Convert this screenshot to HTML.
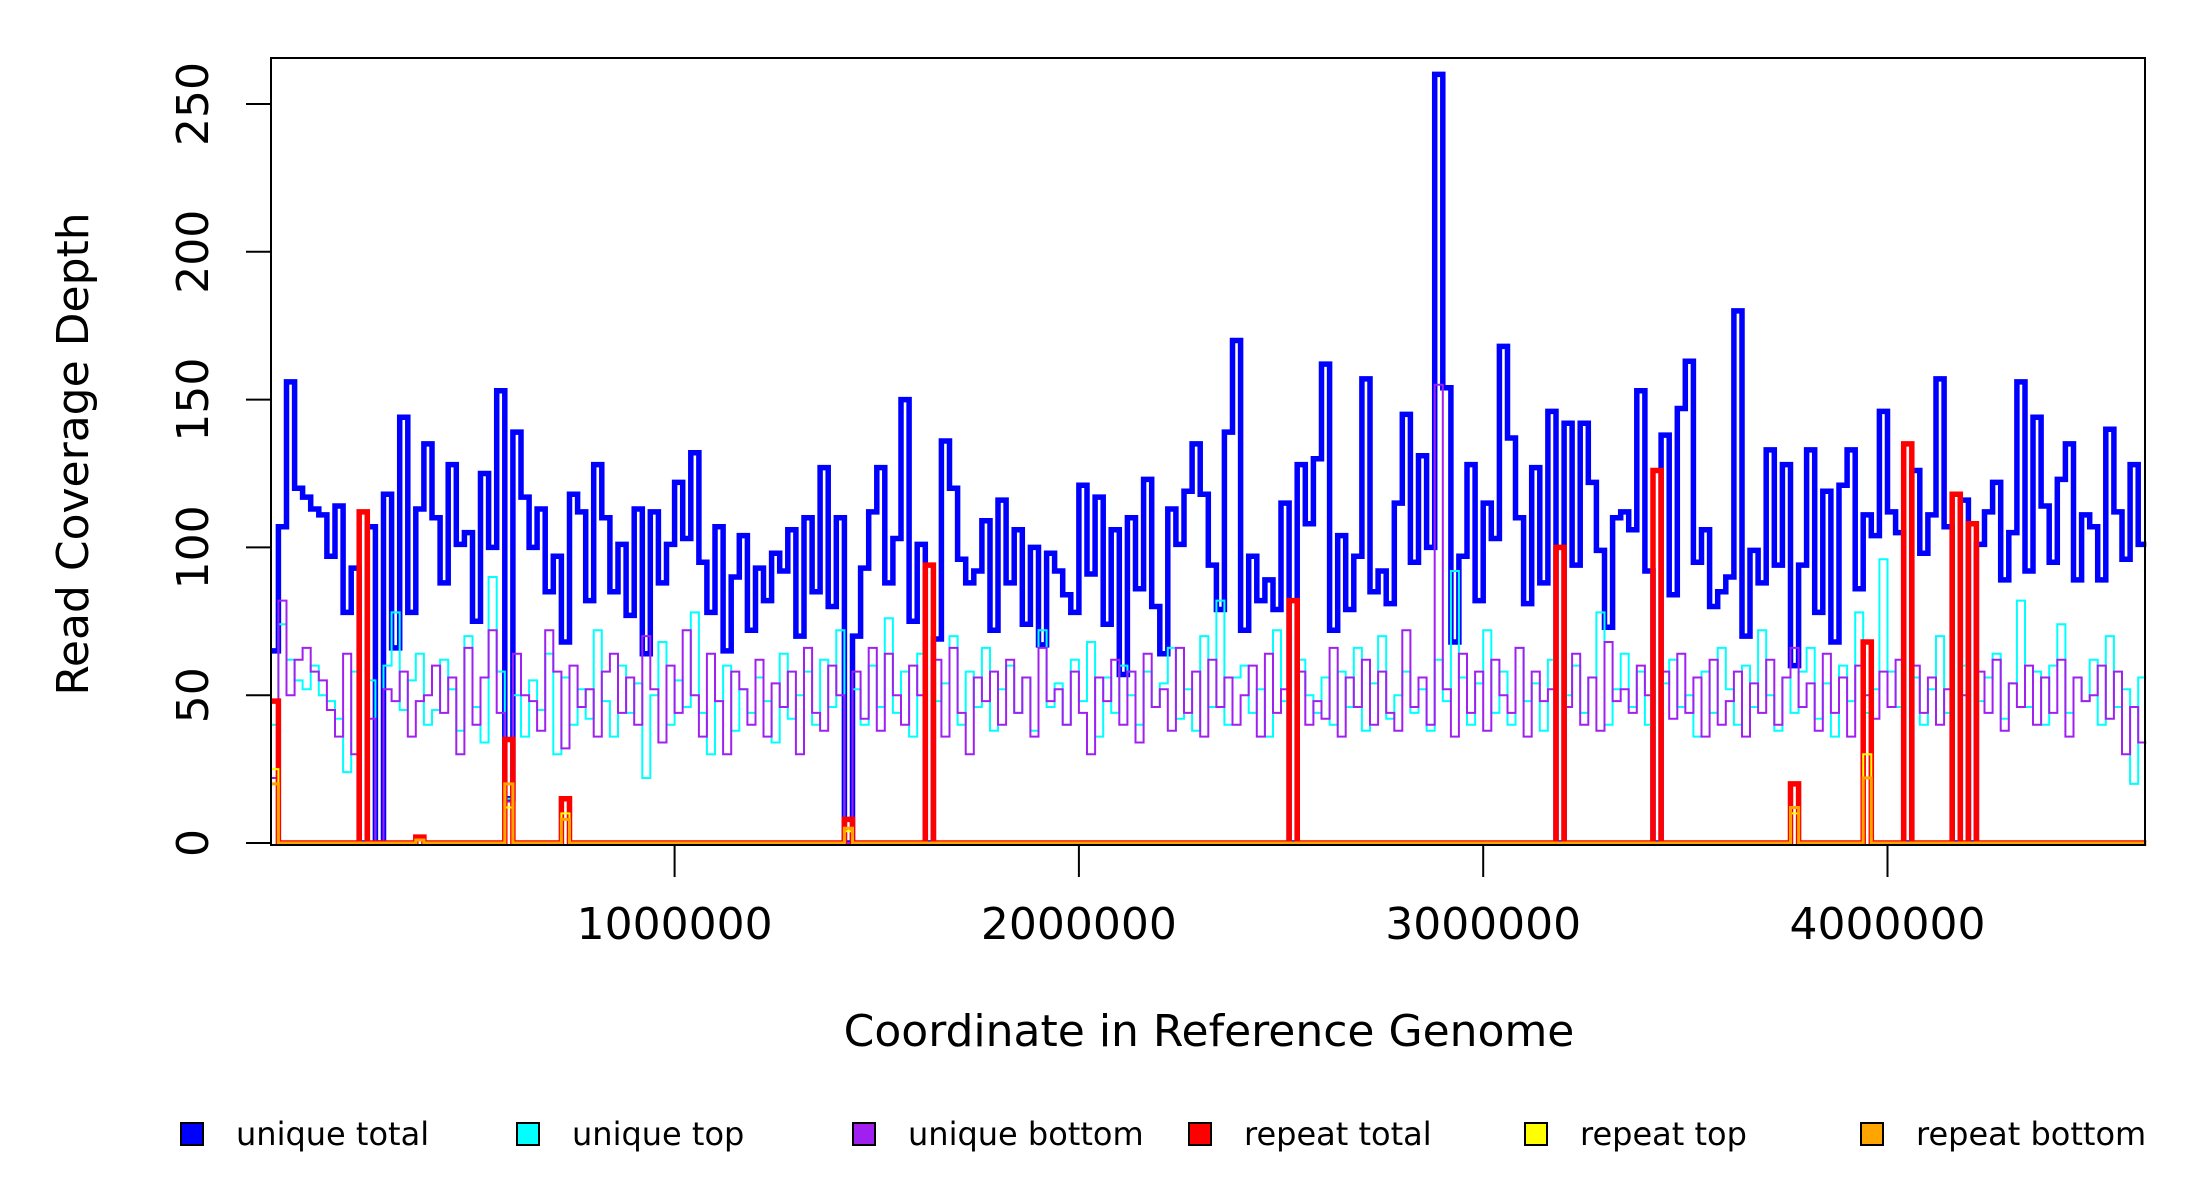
<!DOCTYPE html>
<html><head><meta charset="utf-8"><style>
html,body{margin:0;padding:0;background:#fff;}
svg{display:block;}
text{font-family:"DejaVu Sans","Liberation Sans",sans-serif;fill:#000;}
</style></head><body>
<svg id="chart" width="2200" height="1200" viewBox="0 0 2200 1200" xmlns="http://www.w3.org/2000/svg">
<rect width="2200" height="1200" fill="#fff"/>
<g id="series"></g>
<rect x="271" y="58" width="1874" height="787" fill="none" stroke="#000" stroke-width="2"/>
<g id="yaxis"></g>
<g id="xaxis"></g>
<text x="88" y="454" font-size="44" text-anchor="middle" transform="rotate(-90 88 454)">Read Coverage Depth</text>
<text x="1209" y="1046" font-size="44" text-anchor="middle">Coordinate in Reference Genome</text>
<g id="legend"></g>
</svg>
<script>
const binSize = 20000;
const uniqueTotal = [65,107,156,120,117,113,111,97,114,78,
93,0,107,0,118,66,144,78,113,135,
110,88,128,101,105,75,125,100,153,15,
139,117,100,113,85,97,68,118,112,82,
128,110,85,101,77,113,64,112,88,101,
122,103,132,95,78,107,65,90,104,72,
93,82,98,92,106,70,110,85,127,80,
110,0,70,93,112,127,88,103,150,75,
101,0,69,136,120,96,88,92,109,72,
116,88,106,74,100,67,98,92,84,78,
121,91,117,74,106,57,110,86,123,80,
64,113,101,119,135,118,94,79,139,170,
72,97,82,89,79,115,0,128,108,130,
162,72,104,79,97,157,85,92,81,115,
145,95,131,100,260,154,68,97,128,82,
115,103,168,137,110,81,127,88,146,0,
142,94,142,122,99,73,110,112,106,153,
92,0,138,84,147,163,95,106,80,85,
90,180,70,99,88,133,94,128,60,94,
133,78,119,68,121,133,86,111,104,146,
112,105,0,126,98,111,157,107,0,116,
0,101,112,122,89,105,156,92,144,114,
95,123,135,89,111,107,89,140,112,96,128,101];
const uniqueTop = [40,74,62,55,52,60,50,48,42,24,
58,0,55,0,60,78,45,55,64,40,
45,62,52,38,70,46,34,90,58,15,
50,36,55,45,64,30,56,40,52,42,
72,48,36,60,44,54,22,50,68,40,
55,46,78,44,30,48,60,38,52,44,
56,48,34,64,42,50,58,40,62,46,
72,0,52,40,60,46,76,44,58,36,
64,0,48,54,70,40,58,46,66,38,
52,60,44,56,38,72,46,54,40,62,
48,68,36,56,44,60,50,40,58,46,
54,66,42,52,38,70,46,82,40,56,
60,44,52,36,72,48,0,62,50,44,
56,40,58,46,66,38,54,70,42,50,
58,44,52,38,62,48,92,56,40,54,
72,44,58,40,66,48,54,38,62,0,
50,60,44,56,78,40,52,64,46,58,
40,0,54,62,46,50,36,58,44,66,
52,40,60,46,72,50,38,56,44,58,
66,42,54,36,60,48,78,44,52,96,
58,46,0,56,40,52,70,44,0,60,
0,48,56,64,42,54,82,46,58,40,
60,74,44,56,48,62,40,70,46,52,20,56];
const uniqueBottom = [22,82,50,62,66,58,55,45,36,64,
30,0,42,0,52,48,58,36,48,50,
60,44,56,30,66,40,56,72,44,14,
64,50,48,38,72,58,32,60,46,52,
36,58,64,44,56,40,70,52,34,60,
44,72,50,36,64,48,30,58,52,40,
62,36,54,46,58,30,66,44,38,60,
50,0,58,42,66,38,64,50,40,60,
50,0,62,36,66,44,30,56,48,58,
40,62,44,56,36,66,48,52,40,58,
44,30,56,48,62,40,58,34,64,46,
52,38,66,44,58,36,62,46,56,40,
50,60,36,64,44,52,0,58,40,48,
42,66,36,56,46,62,40,58,44,38,
72,46,56,40,155,52,36,64,44,58,
38,62,50,44,66,36,58,48,52,0,
46,64,40,56,38,68,48,52,44,60,
50,0,58,42,64,44,56,36,62,40,
48,58,36,54,44,62,40,56,66,46,
54,38,64,44,56,36,60,50,42,58,
46,62,0,60,44,56,40,52,0,50,
0,58,44,62,38,54,46,60,40,56,
44,62,36,56,48,50,60,42,58,30,46,34];
const repeatBins   = [0,11,18,29,36,71,81,126,159,171,188,197,202,208,210];
const repeatTotal  = [48,112,2,35,15,8,94,82,100,126,20,68,135,118,108];
const repeatTop    = [25,0,1,12,10,4,0,0,0,0,10,30,0,0,0];
const repeatBottom = [20,0,1,20,8,5,0,0,0,0,12,22,0,0,0];
const xTicks = [1000000,2000000,3000000,4000000];
const xTickLabels = ["1000000","2000000","3000000","4000000"];
const yTicks = [0,50,100,150,200,250];
const yTickLabels = ["0","50","100","150","200","250"];
const legendLabels = ["unique total","unique top","unique bottom","repeat total","repeat top","repeat bottom"];
const legendColors = ["#0000ff","#00ffff","#a020f0","#ff0000","#ffff00","#ffa500"];

const NS = "http://www.w3.org/2000/svg";
const X0 = 270.3, XPX = 404.3e-6, Y0 = 843, YPX = (843-104)/250;
function xs(v){return X0 + v*XPX;}
function ys(v){return Y0 - v*YPX;}
function mk(tag, attrs, parent){const e=document.createElementNS(NS,tag);for(const k in attrs)e.setAttribute(k,attrs[k]);parent.appendChild(e);return e;}
function stepPath(vals){
  let d="";
  for(let i=0;i<vals.length;i++){
    const x1=xs(i*binSize).toFixed(1), x2=xs((i+1)*binSize).toFixed(1), y=ys(vals[i]).toFixed(1);
    d += (i===0?"M":"L")+x1+" "+y+" L"+x2+" "+y+" ";
  }
  return d;
}
function expand(vals){const a=new Array(uniqueTotal.length).fill(0);repeatBins.forEach((b,i)=>a[b]=vals[i]);return a;}
const series = document.getElementById("series");
const specs = [
  [uniqueTotal,"#0000ff",5.5,"unique-total-line"],
  [uniqueTop,"#00ffff",2,"unique-top-line"],
  [uniqueBottom,"#a020f0",2,"unique-bottom-line"],
  [expand(repeatTotal),"#ff0000",5.5,"repeat-total-line"],
  [expand(repeatTop),"#ffff00",2,"repeat-top-line"],
  [expand(repeatBottom),"#ffa500",3,"repeat-bottom-line"]
];
specs.forEach(s=>{
  const p = mk("path",{d:stepPath(s[0]),fill:"none",stroke:s[1],"stroke-width":s[2],"stroke-linejoin":"miter"},series);
  
  
});
const ya = document.getElementById("yaxis");
yTicks.forEach((t,i)=>{
  const l = mk("line",{x1:246,x2:271,y1:ys(t),y2:ys(t),stroke:"#000","stroke-width":2},ya);
  
  
  const tx = mk("text",{x:208,y:ys(t),"font-size":44,"text-anchor":"middle",transform:"rotate(-90 208 "+ys(t)+")"},ya);
  tx.textContent = yTickLabels[i];
  
  
});
const xa = document.getElementById("xaxis");
xTicks.forEach((t,i)=>{
  const l = mk("line",{x1:xs(t),x2:xs(t),y1:845,y2:877,stroke:"#000","stroke-width":2},xa);
  
  
  const tx = mk("text",{x:xs(t),y:939,"font-size":44,"text-anchor":"middle"},xa);
  tx.textContent = xTickLabels[i];
  
  
});
const lg = document.getElementById("legend");
legendLabels.forEach((lab,i)=>{
  const bx = 181 + i*336;
  const r = mk("rect",{x:bx,y:1123,width:22,height:22,fill:legendColors[i],stroke:"#000","stroke-width":2},lg);
  
  
  const tx = mk("text",{x:bx+55,y:1145,"font-size":32},lg);
  tx.textContent = lab;
  
  
});
</script>
</body></html>
